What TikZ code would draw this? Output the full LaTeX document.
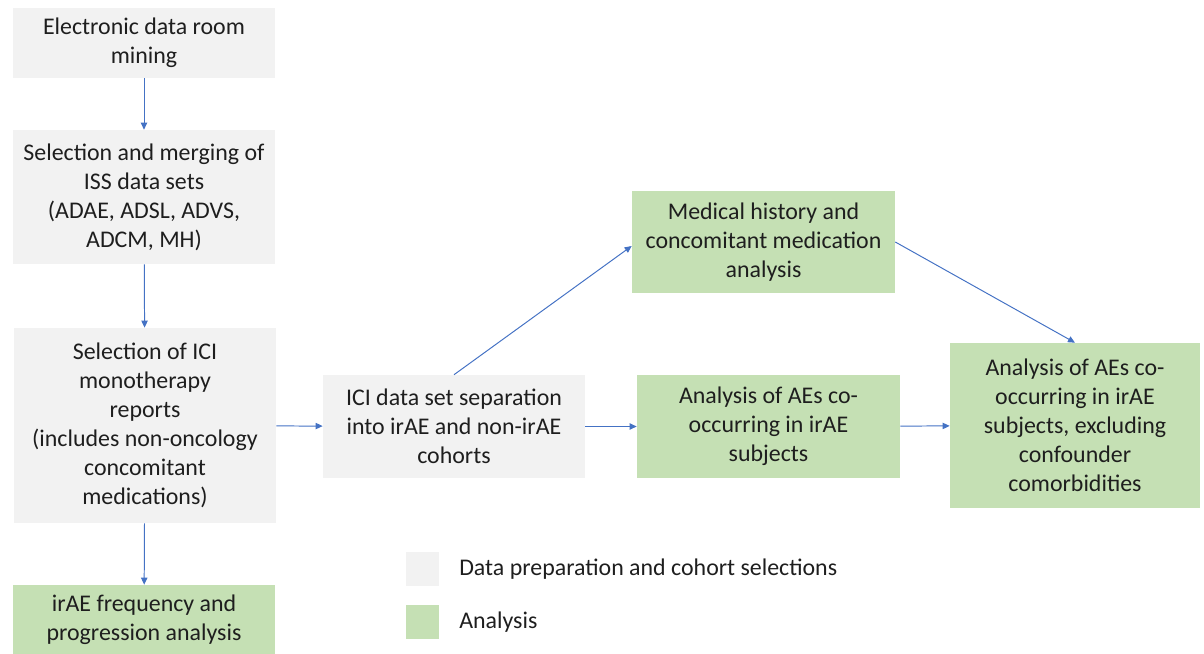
\documentclass[tikz,border=0pt]{standalone}
\usepackage{fontspec}
\setmainfont{Carlito}
\usepackage{tikz}
\usetikzlibrary{arrows.meta, positioning}
\definecolor{prepgray}{RGB}{242, 242, 242}
\definecolor{anagreen}{RGB}{197, 224, 180}
\definecolor{flowblue}{RGB}{68, 114, 196}
\definecolor{textdark}{RGB}{30, 30, 30}

\begin{document}
\begin{tikzpicture}[x=0.025cm, y=-0.025cm, >={Triangle[length=5pt, width=4.5pt]},
    box/.style={inner sep=0pt, align=center, text=textdark,
        font=\fontsize{17}{20.6}\selectfont},
    prep/.style={box, fill=prepgray},
    ana/.style={box, fill=anagreen},
    flow/.style={->, flowblue, line width=0.7pt}]
    \useasboundingbox (0,0) rectangle (1204,653);
    % left column
    \node[prep, minimum width=6.55cm, minimum height=1.75cm] (mining) at (144,43)
        {Electronic data room\\mining};
    \node[prep, minimum width=6.55cm, minimum height=3.35cm] (merging) at (144,197)
        {Selection and merging of\\ISS data sets\\(ADAE, ADSL, ADVS,\\ADCM, MH)};
    \node[prep, minimum width=6.55cm, minimum height=4.875cm] (mono) at (145,425.5)
        {Selection of ICI\\monotherapy\\reports\\(includes non-oncology\\concomitant\\medications)};
    \node[ana, minimum width=6.55cm, minimum height=1.75cm] (freq) at (144,620)
        {irAE frequency and\\progression analysis};
    % middle and right
    \node[prep, minimum width=6.55cm, minimum height=2.575cm] (split) at (454,426.5)
        {ICI data set separation\\into irAE and non-irAE\\cohorts};
    \node[ana, minimum width=6.575cm, minimum height=2.55cm] (medhist) at (763.5,242)
        {Medical history and\\concomitant medication\\analysis};
    \node[ana, minimum width=6.575cm, minimum height=2.575cm] (cooc) at (768.5,426.5)
        {Analysis of AEs co-\\occurring in irAE\\subjects};
    \node[ana, minimum width=6.25cm, minimum height=4.125cm] (excl) at (1075,425.5)
        {Analysis of AEs co-\\occurring in irAE\\subjects, excluding\\confounder\\comorbidities};
    % legend
    \node[prep, minimum width=0.825cm, minimum height=0.85cm] (keyprep) at (422,569) {};
    \node[ana, minimum width=0.825cm, minimum height=0.85cm] (keyana) at (422,622) {};
    \node[box, anchor=west] (keypreptext) at (459,569) {Data preparation and cohort selections};
    \node[box, anchor=west] (keyanatext) at (459,622) {Analysis};
    % arrows
    \draw[flow] (mining) -- (merging);
    \draw[flow] (merging) -- (mono);
    \draw[flow] (mono) -- (freq);
    \draw[flow] (mono) -- (split);
    \draw[flow] (split) -- (cooc);
    \draw[flow] (cooc) -- (excl);
    \draw[flow] (split.north) -- ([yshift=-0.1cm]medhist.west);
    \draw[flow] (medhist.east) -- (excl.north);
\end{tikzpicture}
\end{document}
